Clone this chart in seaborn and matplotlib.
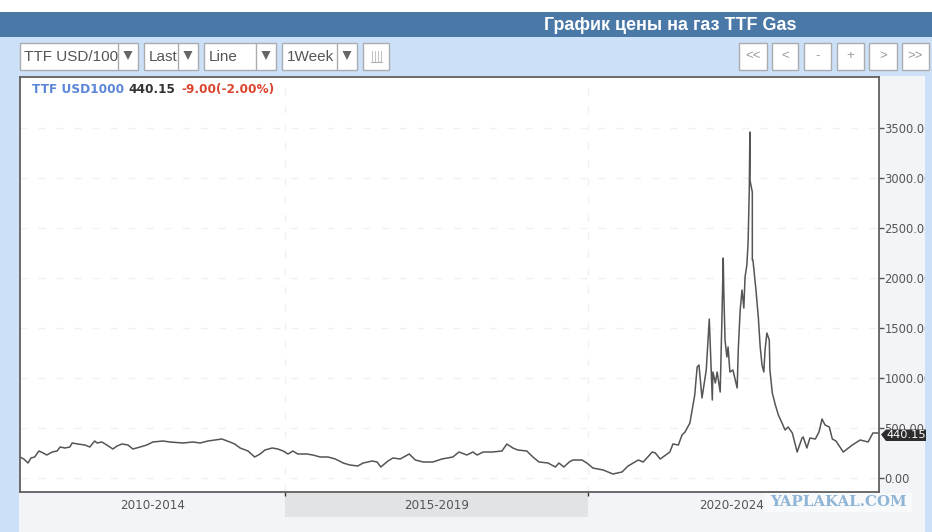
import matplotlib
matplotlib.use("Agg")
import matplotlib.pyplot as plt
from matplotlib.patches import Rectangle, Polygon
from matplotlib.transforms import Bbox
import pandas as pd
import seaborn as sns

#Data
years = [2010.63, 2010.69, 2010.76, 2010.81, 2010.87, 2010.94, 2011.01, 2011.07, 2011.16, 2011.24,
         2011.29, 2011.37, 2011.45, 2011.49, 2011.58, 2011.70, 2011.78, 2011.86, 2011.90, 2011.98,
         2012.06, 2012.16, 2012.23, 2012.31, 2012.41, 2012.49, 2012.61, 2012.72, 2012.82, 2012.99,
         2013.10, 2013.32, 2013.48, 2013.60, 2013.73, 2013.96, 2014.09, 2014.17, 2014.26, 2014.39,
         2014.50, 2014.59, 2014.67, 2014.79, 2014.88, 2014.97, 2015.05, 2015.13, 2015.21, 2015.36,
         2015.46, 2015.58, 2015.71, 2015.83, 2015.96, 2016.07, 2016.20, 2016.29, 2016.44, 2016.52,
         2016.58, 2016.70, 2016.78, 2016.90, 2017.05, 2017.15, 2017.28, 2017.44, 2017.59, 2017.77,
         2017.87, 2018.00, 2018.10, 2018.17, 2018.27, 2018.42, 2018.58, 2018.66, 2018.76, 2018.84,
         2018.99, 2019.09, 2019.19, 2019.34, 2019.46, 2019.52, 2019.60, 2019.69, 2019.75, 2019.90,
         2019.98, 2020.08, 2020.25, 2020.41, 2020.56, 2020.66, 2020.83, 2020.91, 2021.06, 2021.11,
         2021.19, 2021.35, 2021.40, 2021.49, 2021.55, 2021.60, 2021.68, 2021.76, 2021.80, 2021.83,
         2021.88, 2021.95, 2022.00, 2022.05, 2022.06, 2022.10, 2022.13, 2022.18, 2022.21, 2022.23,
         2022.24, 2022.26, 2022.29, 2022.31, 2022.34, 2022.39, 2022.46, 2022.48, 2022.51, 2022.54,
         2022.57, 2022.59, 2022.62, 2022.64, 2022.66, 2022.67, 2022.67, 2022.71, 2022.71, 2022.72,
         2022.77, 2022.81, 2022.84, 2022.87, 2022.90, 2022.92, 2022.95, 2022.99, 2023.00, 2023.04,
         2023.09, 2023.14, 2023.20, 2023.25, 2023.30, 2023.37, 2023.45, 2023.53, 2023.55, 2023.61,
         2023.66, 2023.75, 2023.81, 2023.86, 2023.91, 2023.98, 2024.03, 2024.09, 2024.21, 2024.36,
         2024.49, 2024.62, 2024.70, 2024.80]
prices = [210, 190, 150, 200, 210, 270, 250, 230, 260, 270,
          310, 300, 310, 350, 340, 330, 310, 370, 350, 360,
          330, 290, 320, 340, 330, 290, 310, 330, 360, 370,
          360, 350, 360, 350, 370, 390, 360, 340, 300, 270,
          210, 240, 280, 300, 290, 270, 240, 270, 240, 240,
          230, 210, 210, 190, 150, 130, 120, 150, 170, 160,
          110, 170, 200, 190, 240, 180, 160, 160, 190, 210,
          260, 230, 260, 230, 260, 260, 270, 340, 300, 280,
          270, 210, 160, 150, 110, 150, 110, 160, 180, 180,
          150, 100, 80, 40, 60, 120, 180, 160, 260, 250,
          190, 260, 340, 330, 430, 460, 550, 830, 1110, 1130,
          800, 1080, 1590, 780, 1060, 950, 1060, 860, 1630, 2200,
          1850, 1380, 1210, 1310, 1060, 1080, 900, 1310, 1680, 1880,
          1700, 2010, 2130, 2350, 2880, 3460, 2980, 2860, 2180, 2180,
          1880, 1600, 1310, 1130, 1060, 1280, 1450, 1380, 1080, 850,
          730, 630, 550, 480, 510, 450, 260, 400, 410, 300,
          400, 390, 460, 590, 530, 510, 390, 370, 260, 330,
          380, 360, 450, 450]
y_ticks = [0, 500, 1000, 1500, 2000, 2500, 3000, 3500]
period_labels = ["2010-2014", "2015-2019", "2020-2024"]
period_starts = [2015, 2020]
toolbar_left = ["TTF USD/1000", "Last", "Line", "1Week"]
toolbar_right = ["<<", "<", "-", "+", ">", ">>"]

sns.set_theme(style="white")
plt.rcParams["font.family"] = ["Liberation Sans", "DejaVu Sans"]

fig = plt.figure(figsize=(9.32, 5.32), dpi=100, facecolor="white")

#page background under the chart, in pixel coordinates
back = fig.add_axes([0, 0, 1, 1], zorder=0)
back.set_xlim(0, 932)
back.set_ylim(532, 0)
back.axis("off")
back.add_patch(Rectangle((0, 12), 932, 25, color="#4a78a7", lw=0))
back.add_patch(Rectangle((0, 37), 932, 495, color="#cce0f7", lw=0))
back.add_patch(Rectangle((19, 76), 906, 456, color="#f2f4f7", lw=0))
back.add_patch(Rectangle((285, 493), 303, 24, color="#e2e3e5", lw=0))
back.text(670, 25, "График цены на газ TTF Gas", color="white", fontsize=12.9,
          fontweight="bold", ha="center", va="center")

#chart
ax = fig.add_axes([19.5 / 932, 40 / 532, 859.5 / 932, 415 / 532], zorder=1)
df = pd.DataFrame({"year": years, "price": prices})
sns.lineplot(data=df, x="year", y="price", estimator=None, sort=False, color="#555555", lw=1.1, ax=ax)
ax.set_xlim(2010.62, 2024.80)
ax.set_ylim(-140, 4010)
ax.set_xlabel("")
ax.set_ylabel("")
ax.set_facecolor("white")
ax.yaxis.tick_right()
ax.set_yticks(y_ticks)
ax.set_yticklabels([f"{v:.2f}" for v in y_ticks], fontfamily="DejaVu Sans", fontsize=8.3, color="#555555")
ax.set_xticks(period_starts)
ax.set_xticklabels([])
ax.tick_params(axis="y", length=3.5, width=1, color="#555555", pad=0.5, right=True)
ax.tick_params(axis="x", length=3, width=1, color="#333333", bottom=True)
ax.grid(True, color="#f0f0f0", lw=1, ls=(0, (5, 8)))
ax.set_axisbelow(True)
for side in ax.spines.values():
    side.set_color("#5f5f5f")
    side.set_linewidth(1.3)

#toolbar, labels and tag on top of the chart
front = fig.add_axes([0, 0, 1, 1], zorder=2)
front.set_xlim(0, 932)
front.set_ylim(532, 0)
front.axis("off")
front.patch.set_alpha(0)
front.add_patch(Rectangle((925, 76), 7, 456, color="#cce0f7", lw=0))

box_style = dict(facecolor="white", edgecolor="#a9adb2", lw=1)
boxes = [(19.5, 118, 138), (144, 178, 198), (204, 256, 276), (282, 337, 357)]
for name, (x0, div, x1) in zip(toolbar_left, boxes):
    front.add_patch(Rectangle((x0, 42.5), x1 - x0, 27.5, **box_style))
    front.plot([div, div], [42.5, 70], color="#a9adb2", lw=1)
    label = front.text(x0 + 5, 57, name, color="#555555", fontsize=11, va="center", clip_on=True)
    label.set_clip_box(Bbox.from_extents(x0, 532 - 70, div, 532 - 42))
    front.add_patch(Polygon([((div + x1) / 2 - 4.5, 51), ((div + x1) / 2 + 4.5, 51), ((div + x1) / 2, 60)],
                            color="#666666", lw=0))

front.add_patch(Rectangle((363, 42.5), 26, 27.5, **box_style))
for x in [372, 375, 378, 381]:
    front.plot([x, x], [51, 62], color="#c4c4c4", lw=0.8)
front.plot([371, 382], [62, 62], color="#b0b0b0", lw=0.8)

right_boxes = [(739, 767), (772, 798), (804, 831), (837, 864), (869, 897), (902, 929)]
for name, (x0, x1) in zip(toolbar_right, right_boxes):
    front.add_patch(Rectangle((x0, 42.5), x1 - x0, 27.5, **box_style))
    front.text((x0 + x1) / 2, 56, name, color="#999999", fontsize=9.5, ha="center", va="center")

#legend line
legend_font = dict(family="DejaVu Sans", fontweight="bold", fontsize=8.7, va="center")
front.text(32, 89.5, "TTF USD1000", color="#5b86d8", **legend_font)
front.text(128, 89.5, "440.15", color="#333333", **legend_font)
front.text(181, 89.5, "-9.00(-2.00%)", color="#d9452f", **legend_font)

#period labels under the axis
for name, x in zip(period_labels, [152.5, 437, 732]):
    front.text(x, 505.5, name, family="DejaVu Sans", fontsize=8.6, color="#555555", ha="center", va="center")

#watermark
front.add_patch(Rectangle((764, 493), 148, 19, color="#f8f9fb", lw=0))
front.text(770, 502, "YAPLAKAL.COM", family="DejaVu Serif", fontweight="bold", fontsize=10.8,
           color="#8fb5d6", va="center")

#last value tag
front.add_patch(Polygon([(881, 434.5), (886, 429.5), (926, 429.5), (926, 441), (886, 441)], color="#2c2c2c", lw=0))
front.text(906, 435.2, "440.15", family="DejaVu Sans", fontsize=8.2, color="white", ha="center", va="center")

fig.savefig("out.png", dpi=100)
